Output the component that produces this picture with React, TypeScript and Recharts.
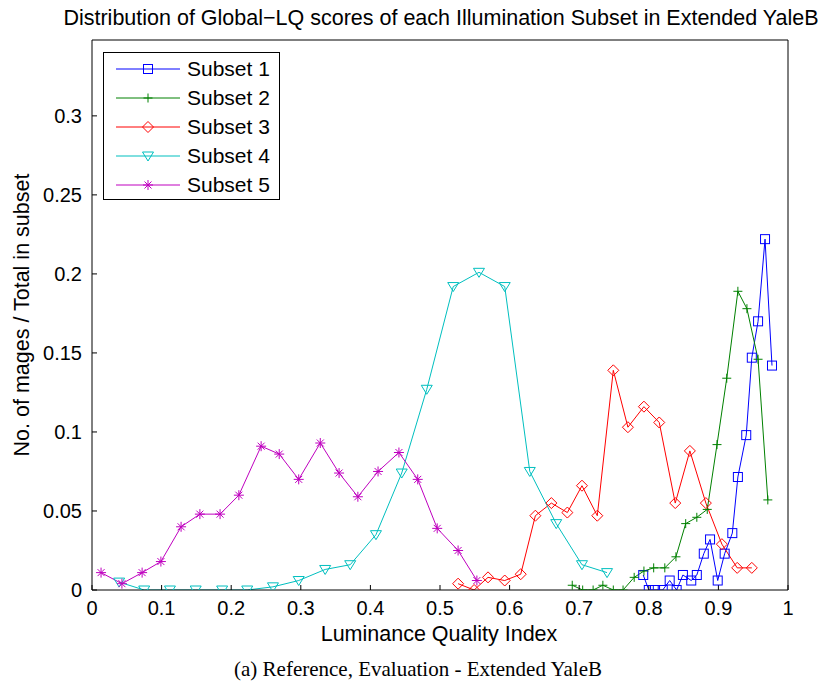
import React from 'react';
import { LineChart, Line, XAxis, YAxis, Legend } from 'recharts';

// values
const subset1X = [0.792, 0.800, 0.809, 0.820, 0.830, 0.840, 0.849, 0.861, 0.869, 0.879, 0.888, 0.899, 0.909, 0.920, 0.928, 0.940, 0.948, 0.957, 0.967, 0.977];
const subset1Y = [0.0095, 0, 0, 0, 0.006, 0, 0.0095, 0.006, 0.0095, 0.023, 0.032, 0.006, 0.023, 0.036, 0.0715, 0.098, 0.147, 0.170, 0.222, 0.142];

const subset2X = [0.690, 0.705, 0.720, 0.734, 0.749, 0.763, 0.779, 0.793, 0.807, 0.823, 0.839, 0.853, 0.869, 0.884, 0.898, 0.912, 0.928, 0.941, 0.957, 0.971];
const subset2Y = [0.003, 0, 0, 0.003, 0, 0, 0.008, 0.012, 0.014, 0.014, 0.021, 0.042, 0.046, 0.051, 0.092, 0.134, 0.189, 0.178, 0.146, 0.057];

const subset3X = [0.526, 0.549, 0.569, 0.593, 0.616, 0.637, 0.660, 0.683, 0.704, 0.726, 0.749, 0.770, 0.793, 0.815, 0.838, 0.859, 0.882, 0.905, 0.927, 0.948];
const subset3Y = [0.004, 0, 0.008, 0.006, 0.010, 0.047, 0.055, 0.049, 0.066, 0.047, 0.139, 0.103, 0.116, 0.106, 0.055, 0.088, 0.055, 0.029, 0.014, 0.014];

const subset4X = [0.039, 0.075, 0.112, 0.149, 0.187, 0.223, 0.260, 0.297, 0.335, 0.371, 0.408, 0.445, 0.481, 0.519, 0.556, 0.593, 0.629, 0.667, 0.704, 0.740];
const subset4Y = [0.005, 0, 0, 0, 0, 0, 0.002, 0.006, 0.013, 0.016, 0.035, 0.074, 0.127, 0.192, 0.201, 0.192, 0.075, 0.042, 0.016, 0.011];

const subset5X = [0.013, 0.043, 0.072, 0.099, 0.128, 0.155, 0.184, 0.211, 0.243, 0.269, 0.297, 0.328, 0.355, 0.382, 0.411, 0.441, 0.468, 0.496, 0.526, 0.553];
const subset5Y = [0.011, 0.004, 0.011, 0.018, 0.040, 0.048, 0.048, 0.060, 0.091, 0.086, 0.070, 0.093, 0.074, 0.059, 0.075, 0.087, 0.070, 0.039, 0.025, 0.006];

const xTicks = [0, 0.1, 0.2, 0.3, 0.4, 0.5, 0.6, 0.7, 0.8, 0.9, 1];
const yTicks = [0, 0.05, 0.1, 0.15, 0.2, 0.25, 0.3];

const zip = (xs: number[], ys: number[]) => xs.map((x, i) => ({ x, y: ys[i] }));

type MarkerKind = 'square' | 'plus' | 'diamond' | 'triangle' | 'star';

const series = [
  { name: 'Subset 1', color: '#0000ff', marker: 'square' as MarkerKind, data: zip(subset1X, subset1Y) },
  { name: 'Subset 2', color: '#008000', marker: 'plus' as MarkerKind, data: zip(subset2X, subset2Y) },
  { name: 'Subset 3', color: '#ff0000', marker: 'diamond' as MarkerKind, data: zip(subset3X, subset3Y) },
  { name: 'Subset 4', color: '#00bfbf', marker: 'triangle' as MarkerKind, data: zip(subset4X, subset4Y) },
  { name: 'Subset 5', color: '#bf00bf', marker: 'star' as MarkerKind, data: zip(subset5X, subset5Y) },
];

const FONT = '"Liberation Sans", Arial, Helvetica, sans-serif';

const Marker = ({ kind, cx, cy, color }: { kind: MarkerKind; cx: number; cy: number; color: string }) => {
  const p = { fill: 'none', stroke: color, strokeWidth: 1 };
  switch (kind) {
    case 'square':
      return <rect x={cx - 4.5} y={cy - 4.5} width={9} height={9} {...p} />;
    case 'plus':
      return (
        <g {...p}>
          <line x1={cx - 4.5} y1={cy} x2={cx + 4.5} y2={cy} />
          <line x1={cx} y1={cy - 4.5} x2={cx} y2={cy + 4.5} />
        </g>
      );
    case 'diamond':
      return <polygon points={`${cx},${cy - 5.5} ${cx + 5.5},${cy} ${cx},${cy + 5.5} ${cx - 5.5},${cy}`} {...p} />;
    case 'triangle':
      return <polygon points={`${cx - 5.5},${cy - 4} ${cx + 5.5},${cy - 4} ${cx},${cy + 5}`} {...p} />;
    default:
      return (
        <g {...p}>
          <line x1={cx - 5} y1={cy} x2={cx + 5} y2={cy} />
          <line x1={cx} y1={cy - 5} x2={cx} y2={cy + 5} />
          <line x1={cx - 3.5} y1={cy - 3.5} x2={cx + 3.5} y2={cy + 3.5} />
          <line x1={cx - 3.5} y1={cy + 3.5} x2={cx + 3.5} y2={cy - 3.5} />
        </g>
      );
  }
};

const LegendBox = (props: any) => {
  const payload = props.payload || [];
  return (
    <svg width={177} height={148} style={{ display: 'block' }}>
      <rect x={0.5} y={0.5} width={176} height={147} fill="#fff" stroke="#000" strokeWidth={1} />
      {payload.map((entry: any, i: number) => {
        const s = series[i];
        const cy = 17 + i * 29;
        return (
          <g key={`leg-${i}`}>
            <line x1={13} y1={cy} x2={77} y2={cy} stroke={s.color} strokeWidth={1} />
            <Marker kind={s.marker} cx={45} cy={cy} color={s.color} />
            <text x={84} y={cy} dy="0.35em" fontSize={21} fontFamily={FONT} fill="#000">
              {entry.value}
            </text>
          </g>
        );
      })}
    </svg>
  );
};

const tickStyle = { fontSize: 20, fontFamily: FONT, fill: '#000' };

export default function App() {
  return (
    <div style={{ position: 'absolute', left: 0, top: 0, width: 822, height: 683, background: '#fff' }}>
      <div
        style={{
          position: 'absolute', left: 40, width: 802, top: 6, lineHeight: '24px',
          textAlign: 'center', fontSize: 21.5, fontFamily: FONT, color: '#000', whiteSpace: 'nowrap',
        }}
      >
        Distribution of Global−LQ scores of each Illumination Subset in Extended YaleB
      </div>
      <LineChart
        width={822}
        height={683}
        margin={{ top: 35, right: 29, bottom: 53, left: 32 }}
      >
        <XAxis
          dataKey="x"
          type="number"
          domain={[0, 1]}
          ticks={xTicks}
          tick={tickStyle}
          tickSize={-5}
          tickMargin={16}
          height={40}
          stroke="#000"
          allowDataOverflow
        />
        <XAxis
          xAxisId="top"
          orientation="top"
          dataKey="x"
          type="number"
          domain={[0, 1]}
          ticks={xTicks}
          tickFormatter={() => ''}
          tickSize={-5}
          height={5}
          stroke="#000"
        />
        <YAxis
          type="number"
          domain={[0, 0.348]}
          ticks={yTicks}
          tick={tickStyle}
          tickSize={-5}
          tickMargin={15}
          width={60}
          stroke="#000"
          allowDataOverflow
        />
        <YAxis
          yAxisId="right"
          orientation="right"
          type="number"
          domain={[0, 0.348]}
          ticks={yTicks}
          tickFormatter={() => ''}
          tickSize={-5}
          width={5}
          stroke="#000"
        />
        {series.map((s) => (
          <Line
            key={s.name}
            data={s.data}
            dataKey="y"
            name={s.name}
            stroke={s.color}
            strokeWidth={1}
            isAnimationActive={false}
            dot={(d: any) => (
              <Marker key={`${s.name}-${d.index}`} kind={s.marker} cx={d.cx} cy={d.cy} color={s.color} />
            )}
            activeDot={false}
          />
        ))}
        <Legend
          layout="vertical"
          align="center"
          verticalAlign="middle"
          content={<LegendBox />}
          wrapperStyle={{ left: 103, top: 52, width: 177, height: 148 }}
        />
      </LineChart>
      <div
        style={{
          position: 'absolute', left: 22, top: 315, transform: 'translate(-50%, -50%) rotate(-90deg)',
          fontSize: 21.5, fontFamily: FONT, color: '#000', whiteSpace: 'nowrap', lineHeight: '24px',
        }}
      >
        No. of mages / Total in subset
      </div>
      <div
        style={{
          position: 'absolute', left: 239, width: 400, top: 622, textAlign: 'center',
          fontSize: 21.5, fontFamily: FONT, color: '#000', lineHeight: '24px',
        }}
      >
        Luminance Quality Index
      </div>
      <div
        style={{
          position: 'absolute', left: 168, width: 500, top: 657, textAlign: 'center', whiteSpace: 'nowrap',
          fontSize: 21, fontFamily: '"Liberation Serif", "Times New Roman", serif', color: '#000', lineHeight: '24px',
        }}
      >
        (a) Reference, Evaluation - Extended YaleB
      </div>
    </div>
  );
}
